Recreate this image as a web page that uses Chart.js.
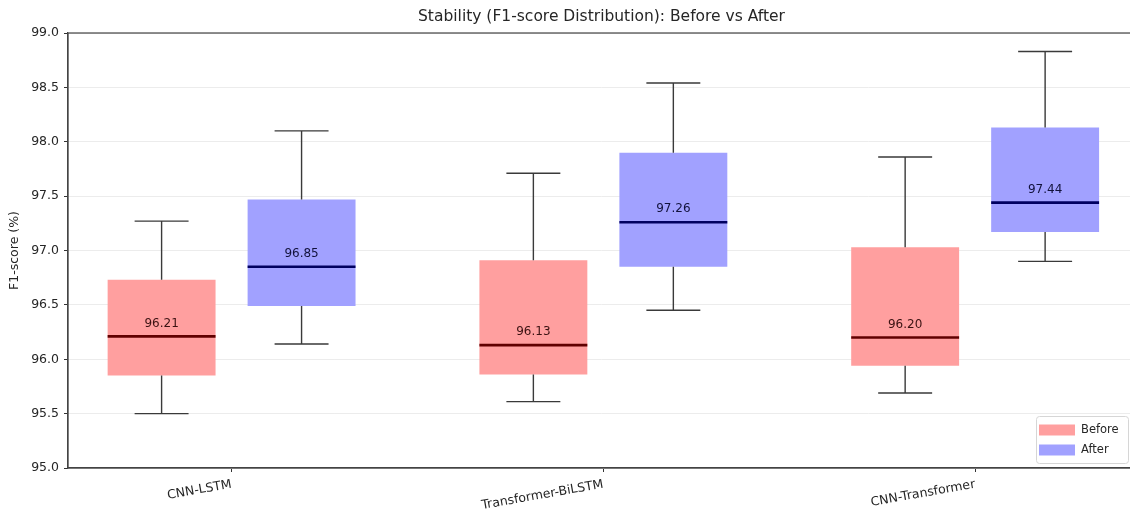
<!DOCTYPE html>
<html>
<head>
<meta charset="utf-8">
<title>Stability (F1-score Distribution): Before vs After</title>
<script src="https://cdn.jsdelivr.net/npm/chart.js@4.4.1/dist/chart.umd.min.js"></script>
<style>
    html, body { margin: 0; padding: 0; background: #fff; overflow: hidden; }
    #wrap { width: 1130px; height: 514px; overflow: hidden; }
</style>
</head>
<body>
<div id="wrap"><canvas id="stabilityChart" width="1140" height="514"></canvas></div>
<script>
// data
const categories = ['CNN-LSTM', 'Transformer-BiLSTM', 'CNN-Transformer'];

const beforeMin    = [95.50, 95.61, 95.69];
const beforeQ1     = [95.85, 95.86, 95.94];
const beforeMedian = [96.21, 96.13, 96.20];
const beforeQ3     = [96.73, 96.91, 97.03];
const beforeMax    = [97.27, 97.71, 97.86];

const afterMin    = [96.14, 96.45, 96.90];
const afterQ1     = [96.49, 96.85, 97.17];
const afterMedian = [96.85, 97.26, 97.44];
const afterQ3     = [97.47, 97.90, 98.13];
const afterMax    = [98.10, 98.54, 98.83];

const yTicks = [95.0, 95.5, 96.0, 96.5, 97.0, 97.5, 98.0, 98.5, 99.0];

document.addEventListener('DOMContentLoaded', function() {

    Chart.defaults.font.family = "'DejaVu Sans', sans-serif";
    Chart.defaults.color = '#262626';

    // --- whiskers, medians and labels on top of the boxes ---
    const boxExtras = {
        id: 'boxExtras',
        afterDatasetsDraw(chart) {
            const ctx = chart.ctx;
            const y = chart.scales.y;
            chart.data.datasets.forEach(function(ds, di) {
                const meta = chart.getDatasetMeta(di);
                meta.data.forEach(function(bar, i) {
                    const cx = bar.x;
                    const half = bar.width / 2;
                    const st = ds.stats[i];
                    ctx.save();
                    // whiskers + caps
                    ctx.strokeStyle = '#3a3a3a';
                    ctx.lineWidth = 1.4;
                    ctx.beginPath();
                    ctx.moveTo(cx, y.getPixelForValue(st.q3));
                    ctx.lineTo(cx, y.getPixelForValue(st.max));
                    ctx.moveTo(cx - half / 2, y.getPixelForValue(st.max));
                    ctx.lineTo(cx + half / 2, y.getPixelForValue(st.max));
                    ctx.moveTo(cx, y.getPixelForValue(st.q1));
                    ctx.lineTo(cx, y.getPixelForValue(st.min));
                    ctx.moveTo(cx - half / 2, y.getPixelForValue(st.min));
                    ctx.lineTo(cx + half / 2, y.getPixelForValue(st.min));
                    ctx.stroke();
                    // median
                    const my = y.getPixelForValue(st.median);
                    ctx.strokeStyle = ds.medianColor;
                    ctx.lineWidth = 2.6;
                    ctx.beginPath();
                    ctx.moveTo(cx - half, my);
                    ctx.lineTo(cx + half, my);
                    ctx.stroke();
                    // median label
                    ctx.fillStyle = ds.labelColor;
                    ctx.font = "12px 'DejaVu Sans'";
                    ctx.textAlign = 'center';
                    ctx.textBaseline = 'middle';
                    ctx.fillText(st.median.toFixed(2), cx, my - 13);
                    ctx.restore();
                });
            });

            // frame (top / right spines)
            const a = chart.chartArea;
            ctx.save();
            ctx.strokeStyle = '#444';
            ctx.lineWidth = 1.2;
            ctx.strokeRect(a.left, a.top, a.right - a.left, a.bottom - a.top);
            ctx.restore();
        }
    };

    // --- legend inside the plot, lower right ---
    const innerLegend = {
        id: 'innerLegend',
        afterDraw(chart) {
            const ctx = chart.ctx;
            const a = chart.chartArea;
            const boxW = 92, boxH = 47;
            const bx = a.right - 7 - boxW;
            const by = a.bottom - 5 - boxH;
            ctx.save();
            ctx.fillStyle = 'rgba(255,255,255,0.85)';
            ctx.strokeStyle = '#d6d6d6';
            ctx.lineWidth = 1;
            ctx.beginPath();
            ctx.roundRect(bx + 0.5, by + 0.5, boxW, boxH, 3);
            ctx.fill();
            ctx.stroke();
            ctx.font = "11.5px 'DejaVu Sans'";
            ctx.textBaseline = 'middle';
            ctx.textAlign = 'left';
            chart.data.datasets.forEach(function(ds, i) {
                const cy = by + 14 + i * 20;
                ctx.fillStyle = ds.backgroundColor;
                ctx.fillRect(bx + 3, cy - 5.5, 36, 11);
                ctx.fillStyle = '#262626';
                ctx.fillText(ds.label, bx + 45, cy);
            });
            ctx.restore();
        }
    };

    function stats(mins, q1s, meds, q3s, maxs) {
        return categories.map(function(c, i) {
            return { min: mins[i], q1: q1s[i], median: meds[i], q3: q3s[i], max: maxs[i] };
        });
    }

    const canvas = document.getElementById('stabilityChart');
    new Chart(canvas.getContext('2d'), {
        type: 'bar',
        data: {
            datasets: [{
                label: 'Before',
                data: categories.map((c, i) => ({ x: i, y: [beforeQ1[i], beforeQ3[i]] })),
                stats: stats(beforeMin, beforeQ1, beforeMedian, beforeQ3, beforeMax),
                backgroundColor: '#ff9f9f',
                medianColor: '#600000',
                labelColor: '#3b1212',
                borderWidth: 0,
                barPercentage: 0.771,
                categoryPercentage: 0.753
            }, {
                label: 'After',
                data: categories.map((c, i) => ({ x: i, y: [afterQ1[i], afterQ3[i]] })),
                stats: stats(afterMin, afterQ1, afterMedian, afterQ3, afterMax),
                backgroundColor: '#a1a1ff',
                medianColor: '#000060',
                labelColor: '#12123b',
                borderWidth: 0,
                barPercentage: 0.771,
                categoryPercentage: 0.753
            }]
        },
        options: {
            responsive: false,
            animation: false,
            layout: { padding: { left: 0, top: 0, right: 5, bottom: 0 } },
            plugins: {
                legend: { display: false },
                tooltip: { enabled: false },
                title: {
                    display: true,
                    text: 'Stability (F1-score Distribution): Before vs After',
                    fullSize: false,
                    color: '#262626',
                    font: { size: 15.5, weight: 'normal' },
                    padding: { top: 8, bottom: 6.4 }
                }
            },
            scales: {
                x: {
                    type: 'linear',
                    offset: false,
                    min: -0.44,
                    max: 2.43,
                    afterBuildTicks: function(axis) {
                        axis.ticks = categories.map((c, i) => ({ value: i }));
                    },
                    afterFit: function(scale) { scale.height = 46; },
                    grid: { offset: false, drawOnChartArea: false, drawTicks: true, tickLength: 4, tickColor: '#333' },
                    border: { color: '#444', width: 1.2 },
                    ticks: {
                        autoSkip: false,
                        includeBounds: false,
                        minRotation: 10,
                        maxRotation: 10,
                        padding: 5,
                        color: '#262626',
                        font: { size: 12.5 },
                        callback: function(value) { return categories[value]; }
                    }
                },
                y: {
                    min: 95,
                    max: 99,
                    afterBuildTicks: function(axis) {
                        axis.ticks = yTicks.map(v => ({ value: v }));
                    },
                    afterFit: function(scale) { scale.width = 68; },
                    grid: { color: '#ececec', tickColor: '#333', tickLength: 4 },
                    border: { color: '#444', width: 1.2 },
                    ticks: {
                        padding: 5,
                        color: '#262626',
                        font: { size: 12.5 },
                        callback: function(value) { return value.toFixed(1); }
                    },
                    title: {
                        display: true,
                        text: 'F1-score (%)',
                        color: '#262626',
                        font: { size: 12.5 },
                        padding: { top: 7, bottom: 0 }
                    }
                }
            }
        },
        plugins: [boxExtras, innerLegend]
    });
});
</script>
</body>
</html>
